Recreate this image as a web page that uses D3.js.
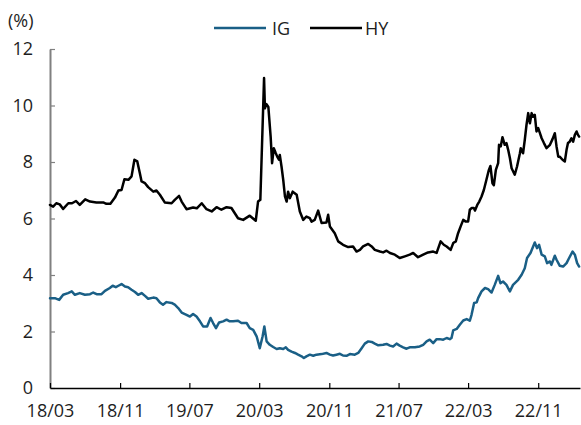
<!DOCTYPE html>
<html><head><meta charset="utf-8">
<script src="https://cdn.jsdelivr.net/npm/d3@7"></script>
<style>
html,body{margin:0;padding:0;background:#fff;}
svg{display:block;font-family:"Open Sans",sans-serif;}
</style></head>
<body><svg id="chart" width="581" height="425"></svg>
<script>
const seriesNames = ["IG", "HY"];
const seriesColors = ["#1a5f86", "#000000"];
const yTicks = [0, 2, 4, 6, 8, 10, 12];
const xTickDates = ["2018-03-01","2018-11-01","2019-07-01","2020-03-01","2020-11-01","2021-07-01","2022-03-01","2022-11-01"];
const xTickLabels = ["18/03","18/11","19/07","20/03","20/11","21/07","22/03","22/11"];
const xDomain = ["2018-03-01", "2023-03-27"];
const unitLabel = "(%)";

const igDates = ["2018-03-01","2018-03-18","2018-04-02","2018-04-16","2018-05-03","2018-05-16","2018-05-27","2018-06-13","2018-07-01","2018-07-19","2018-07-30","2018-08-11","2018-08-28","2018-09-09","2018-09-26","2018-10-06","2018-10-17","2018-10-26","2018-11-06","2018-11-18","2018-11-29","2018-12-11","2018-12-23","2019-01-03","2019-01-15","2019-01-27","2019-02-07","2019-02-25","2019-03-08","2019-03-20","2019-03-31","2019-04-12","2019-04-30","2019-05-11","2019-05-23","2019-06-04","2019-06-21","2019-07-03","2019-07-14","2019-07-26","2019-08-07","2019-08-18","2019-09-01","2019-09-13","2019-09-22","2019-10-02","2019-10-13","2019-10-27","2019-11-08","2019-11-19","2019-12-01","2019-12-18","2019-12-30","2020-01-17","2020-01-28","2020-02-09","2020-02-21","2020-03-03","2020-03-13","2020-03-19","2020-03-27","2020-04-07","2020-04-19","2020-05-01","2020-05-12","2020-05-24","2020-06-02","2020-06-10","2020-06-22","2020-07-04","2020-07-15","2020-07-27","2020-08-04","2020-08-13","2020-08-25","2020-09-06","2020-09-17","2020-10-05","2020-10-22","2020-11-03","2020-11-14","2020-11-26","2020-12-08","2020-12-19","2020-12-31","2021-01-12","2021-01-29","2021-02-10","2021-02-22","2021-03-05","2021-03-17","2021-03-29","2021-04-09","2021-04-21","2021-05-08","2021-05-20","2021-06-01","2021-06-12","2021-06-24","2021-07-05","2021-07-17","2021-07-29","2021-08-09","2021-08-27","2021-09-13","2021-09-25","2021-10-07","2021-10-18","2021-10-30","2021-11-11","2021-11-22","2021-12-04","2021-12-16","2021-12-27","2022-01-02","2022-01-08","2022-01-20","2022-01-31","2022-02-12","2022-02-24","2022-03-07","2022-03-13","2022-03-22","2022-03-31","2022-04-05","2022-04-17","2022-04-29","2022-05-10","2022-05-22","2022-06-02","2022-06-14","2022-06-22","2022-07-01","2022-07-13","2022-07-25","2022-08-05","2022-08-23","2022-09-04","2022-09-15","2022-09-23","2022-10-05","2022-10-20","2022-10-28","2022-11-04","2022-11-13","2022-11-24","2022-12-02","2022-12-12","2022-12-17","2022-12-29","2023-01-04","2023-01-15","2023-01-27","2023-02-08","2023-02-17","2023-03-01","2023-03-09","2023-03-17","2023-03-24"];
const igValues = [3.18,3.18,3.12,3.30,3.36,3.42,3.30,3.36,3.30,3.32,3.38,3.32,3.32,3.44,3.54,3.62,3.57,3.62,3.68,3.59,3.57,3.48,3.40,3.30,3.36,3.26,3.16,3.20,3.18,3.03,2.95,3.04,3.01,2.95,2.83,2.67,2.59,2.53,2.62,2.53,2.36,2.18,2.18,2.48,2.30,2.12,2.32,2.36,2.42,2.36,2.36,2.38,2.30,2.30,2.12,2.06,1.83,1.41,1.83,2.18,1.65,1.53,1.45,1.38,1.41,1.38,1.44,1.35,1.29,1.24,1.18,1.12,1.06,1.12,1.18,1.14,1.18,1.20,1.24,1.18,1.15,1.18,1.21,1.15,1.14,1.20,1.18,1.24,1.41,1.57,1.65,1.63,1.57,1.51,1.53,1.56,1.50,1.47,1.57,1.50,1.44,1.39,1.44,1.44,1.47,1.53,1.65,1.71,1.59,1.73,1.73,1.71,1.77,1.73,1.77,2.04,2.09,2.24,2.39,2.44,2.38,2.59,3.01,3.03,3.18,3.42,3.54,3.50,3.38,3.65,3.97,3.71,3.77,3.65,3.42,3.65,3.83,4.01,4.24,4.60,4.78,5.15,4.95,5.07,4.72,4.66,4.42,4.48,4.36,4.68,4.54,4.33,4.30,4.42,4.60,4.83,4.72,4.42,4.30];

const hyDates = ["2018-03-01","2018-03-12","2018-03-23","2018-04-04","2018-04-16","2018-05-04","2018-05-17","2018-05-31","2018-06-13","2018-07-02","2018-07-19","2018-08-10","2018-09-03","2018-09-14","2018-09-28","2018-10-14","2018-10-26","2018-11-06","2018-11-16","2018-11-30","2018-12-11","2018-12-21","2018-12-31","2019-01-09","2019-01-15","2019-01-27","2019-02-07","2019-02-25","2019-03-08","2019-03-20","2019-04-06","2019-04-30","2019-05-11","2019-05-26","2019-06-04","2019-06-21","2019-07-14","2019-07-27","2019-08-13","2019-08-30","2019-09-17","2019-10-04","2019-10-21","2019-11-08","2019-11-25","2019-12-18","2020-01-05","2020-01-28","2020-02-18","2020-02-26","2020-03-05","2020-03-18","2020-03-21","2020-03-26","2020-04-02","2020-04-10","2020-04-15","2020-04-21","2020-04-28","2020-05-03","2020-05-09","2020-05-12","2020-05-18","2020-05-24","2020-05-30","2020-06-05","2020-06-10","2020-06-16","2020-06-26","2020-07-10","2020-07-21","2020-08-02","2020-08-13","2020-08-25","2020-08-31","2020-09-11","2020-09-23","2020-10-05","2020-10-22","2020-10-28","2020-11-03","2020-11-20","2020-12-02","2020-12-19","2021-01-06","2021-01-23","2021-02-04","2021-02-16","2021-02-27","2021-03-17","2021-03-29","2021-04-09","2021-04-27","2021-05-08","2021-05-20","2021-06-01","2021-06-18","2021-07-05","2021-07-23","2021-08-09","2021-08-21","2021-09-07","2021-09-25","2021-10-12","2021-10-30","2021-11-11","2021-11-25","2021-12-06","2021-12-16","2021-12-30","2022-01-08","2022-01-17","2022-01-25","2022-02-03","2022-02-12","2022-02-21","2022-03-01","2022-03-07","2022-03-13","2022-03-21","2022-03-25","2022-04-02","2022-04-09","2022-04-17","2022-04-25","2022-05-04","2022-05-12","2022-05-18","2022-05-25","2022-05-30","2022-06-06","2022-06-14","2022-06-17","2022-06-23","2022-06-29","2022-07-07","2022-07-13","2022-07-19","2022-07-25","2022-07-31","2022-08-11","2022-08-19","2022-08-29","2022-09-01","2022-09-09","2022-09-15","2022-09-21","2022-09-27","2022-10-03","2022-10-09","2022-10-14","2022-10-20","2022-10-26","2022-11-01","2022-11-07","2022-11-13","2022-11-21","2022-11-30","2022-12-12","2022-12-21","2022-12-29","2023-01-04","2023-01-10","2023-01-15","2023-01-25","2023-02-02","2023-02-08","2023-02-13","2023-02-19","2023-02-25","2023-03-03","2023-03-09","2023-03-15","2023-03-20","2023-03-24"];
const hyValues = [6.48,6.42,6.54,6.50,6.34,6.54,6.54,6.62,6.48,6.68,6.60,6.57,6.57,6.52,6.52,6.74,6.99,7.01,7.39,7.37,7.49,8.08,8.02,7.60,7.31,7.25,7.11,6.95,6.99,6.84,6.57,6.54,6.66,6.80,6.60,6.33,6.39,6.36,6.54,6.33,6.25,6.40,6.31,6.40,6.37,6.01,5.95,6.10,5.92,6.60,6.66,10.97,9.90,10.05,9.95,8.90,7.96,8.49,8.31,8.19,8.08,8.25,7.84,7.37,6.78,6.60,6.95,6.72,6.95,6.84,6.25,5.95,6.07,6.01,5.89,5.95,6.28,5.84,5.86,6.13,5.72,5.48,5.19,5.07,4.99,5.01,4.83,4.89,5.01,5.10,5.01,4.89,4.83,4.80,4.86,4.78,4.72,4.60,4.66,4.72,4.78,4.63,4.72,4.80,4.83,4.78,5.19,5.07,5.01,4.89,5.13,5.19,5.48,5.72,5.95,5.89,5.89,6.31,6.37,6.37,6.28,6.48,6.60,6.78,7.01,7.37,7.70,7.86,7.25,7.18,7.72,7.96,8.61,8.55,8.88,8.61,8.67,8.43,8.14,7.78,7.55,7.84,8.31,8.49,8.31,8.78,9.31,9.73,9.37,9.73,9.60,9.67,9.08,9.20,9.02,8.84,8.67,8.49,8.61,8.81,9.02,8.55,8.19,8.19,8.08,8.02,8.43,8.67,8.72,8.84,8.72,8.96,9.08,8.96,8.90];

const parse = d3.timeParse("%Y-%m-%d");
const svg = d3.select("#chart");
const plot = {left: 50, right: 580, top: 49, bottom: 388};
const x = d3.scaleTime().domain(xDomain.map(parse)).range([plot.left, plot.right]);
const y = d3.scaleLinear().domain([0, 12]).range([plot.bottom, plot.top]);
const textColor = "#1e1e1e";

// Y axis
const yAxis = svg.append("g").attr("transform", `translate(${plot.left},0)`)
  .call(d3.axisLeft(y).tickValues(yTicks).tickFormat(d3.format("d"))
    .tickSizeInner(-5).tickSizeOuter(0).tickPadding(17));
yAxis.select(".domain").attr("stroke", "#808080").attr("stroke-width", 2);
yAxis.selectAll(".tick line").attr("stroke", "#808080").attr("stroke-width", 1.2);
yAxis.selectAll("text").attr("font-size", 18).attr("fill", textColor)
  .attr("font-family", "'Open Sans', sans-serif");

// X axis
const xAxis = svg.append("g").attr("transform", `translate(0,${plot.bottom})`)
  .call(d3.axisBottom(x).tickValues(xTickDates.map(parse))
    .tickFormat((d, i) => xTickLabels[i])
    .tickSizeInner(-5).tickSizeOuter(0).tickPadding(16));
xAxis.select(".domain").attr("stroke", "#000").attr("stroke-width", 1.5);
xAxis.selectAll(".tick line").attr("stroke", "#000").attr("stroke-width", 1.2);
xAxis.selectAll("text").attr("font-size", 18).attr("fill", textColor)
  .attr("font-family", "'Open Sans', sans-serif");

// Series
const series = [
  {name: seriesNames[0], color: seriesColors[0], data: igDates.map((d, i) => ({date: parse(d), value: igValues[i]}))},
  {name: seriesNames[1], color: seriesColors[1], data: hyDates.map((d, i) => ({date: parse(d), value: hyValues[i]}))}
];
const line = d3.line().x(d => x(d.date)).y(d => y(d.value));
svg.append("g").selectAll("path").data(series).join("path")
  .attr("d", d => line(d.data))
  .attr("fill", "none")
  .attr("stroke", d => d.color)
  .attr("stroke-width", 2.5)
  .attr("stroke-linejoin", "round")
  .attr("stroke-linecap", "round");

// Unit label
svg.append("text").attr("x", 8).attr("y", 27).attr("font-size", 18)
  .attr("fill", textColor).text(unitLabel);

// Legend
const legendX = [214, 310];
const lg = svg.append("g").selectAll("g").data(series).join("g")
  .attr("transform", (d, i) => `translate(${legendX[i]},28)`);
lg.append("line").attr("x1", 0).attr("x2", 52).attr("y1", 0).attr("y2", 0)
  .attr("stroke", d => d.color).attr("stroke-width", 2.7);
lg.append("text").attr("x", (d, i) => i === 0 ? 58 : 55).attr("y", 7)
  .attr("font-size", 18).attr("fill", textColor).text(d => d.name);
</script>
</body></html>
